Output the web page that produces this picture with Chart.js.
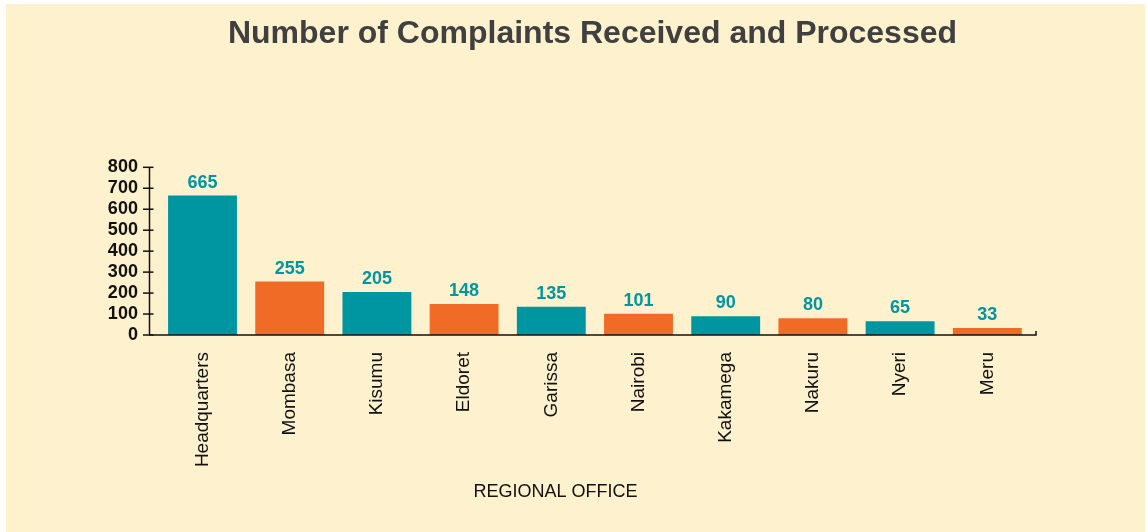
<!DOCTYPE html>
<html>
<head>
<meta charset="utf-8">
<script src="https://cdn.jsdelivr.net/npm/chart.js@4/dist/chart.umd.min.js"></script>
<style>
  html, body { margin: 0; padding: 0; background: #ffffff; }
  #wrap { position: absolute; left: 6px; top: 4px; width: 1139px; height: 528px; background: #fef1cd; }
  canvas { display: block; }
</style>
</head>
<body>
<div id="wrap"><canvas id="c" width="1139" height="528"></canvas></div>
<script>
const chartTitle = "Number of Complaints Received and Processed";
const xAxisTitle = "REGIONAL OFFICE";
const categories = ["Headquarters", "Mombasa", "Kisumu", "Eldoret", "Garissa", "Nairobi", "Kakamega", "Nakuru", "Nyeri", "Meru"];
const complaints = [665, 255, 205, 148, 135, 101, 90, 80, 65, 33];
const yTicks = [0, 100, 200, 300, 400, 500, 600, 700, 800];

const TEAL = "#0096a1";
const ORANGE = "#f06b26";
const barColors = categories.map((_, i) => i % 2 === 0 ? TEAL : ORANGE);

const decor = {
  id: "decor",
  afterDatasetsDraw(chart) {
    const ctx = chart.ctx;
    const ca = chart.chartArea;
    const y = chart.scales.y;
    const axX = ca.left - 9.4;
    const axEnd = ca.right + 5.1;
    ctx.save();
    ctx.strokeStyle = "#111111";
    ctx.lineWidth = 1.5;
    ctx.beginPath();
    ctx.moveTo(axX, y.getPixelForValue(800));
    ctx.lineTo(axX, y.getPixelForValue(0));
    ctx.stroke();
    yTicks.forEach(v => {
      const py = y.getPixelForValue(v);
      ctx.beginPath();
      ctx.moveTo(axX - 6.5, py);
      ctx.lineTo(axX + 4, py);
      ctx.stroke();
    });
    const y0 = y.getPixelForValue(0);
    ctx.beginPath();
    ctx.moveTo(axX, y0);
    ctx.lineTo(axEnd, y0);
    ctx.lineTo(axEnd, y0 - 4);
    ctx.stroke();
    const meta = chart.getDatasetMeta(0);
    ctx.fillStyle = TEAL;
    ctx.font = "bold 18px 'Liberation Sans', Arial, sans-serif";
    ctx.textAlign = "center";
    ctx.textBaseline = "alphabetic";
    meta.data.forEach((bar, i) => {
      ctx.fillText(String(complaints[i]), bar.x, bar.y - 8);
    });
    ctx.fillStyle = "#404040";
    ctx.font = "bold 32px 'Liberation Sans', Arial, sans-serif";
    ctx.fillText(chartTitle, 586.5, 39);
    ctx.fillStyle = "#111111";
    ctx.font = "18px 'Liberation Sans', Arial, sans-serif";
    ctx.fillText(xAxisTitle, 549.5, 493);
    ctx.restore();
  }
};

new Chart(document.getElementById("c"), {
  type: "bar",
  data: {
    labels: categories,
    datasets: [{
      data: complaints,
      backgroundColor: barColors,
      borderWidth: 0,
      categoryPercentage: 1.0,
      barPercentage: 0.79
    }]
  },
  options: {
    responsive: false,
    animation: false,
    devicePixelRatio: 1,
    layout: { padding: { top: 163.3, left: 0, right: 114.1, bottom: 0 } },
    plugins: { legend: { display: false }, tooltip: { enabled: false }, title: { display: false } },
    scales: {
      x: {
        grid: { display: false, drawTicks: false },
        border: { display: false },
        ticks: {
          color: "#111111",
          font: { family: "'Liberation Sans', Arial, sans-serif", size: 19 },
          minRotation: 90, maxRotation: 90,
          padding: 17,
          autoSkip: false
        },
        afterFit(scale) { scale.height = 197; }
      },
      y: {
        min: 0, max: 800,
        grid: { display: false, drawTicks: false },
        border: { display: false },
        afterBuildTicks(scale) { scale.ticks = yTicks.map(v => ({ value: v })); },
        ticks: {
          color: "#111111",
          font: { family: "'Liberation Sans', Arial, sans-serif", size: 18, weight: "bold", lineHeight: 1 },
          padding: 21,
          autoSkip: false
        },
        afterFit(scale) { scale.width = 152.9; }
      }
    }
  },
  plugins: [decor]
});
</script>
</body>
</html>
